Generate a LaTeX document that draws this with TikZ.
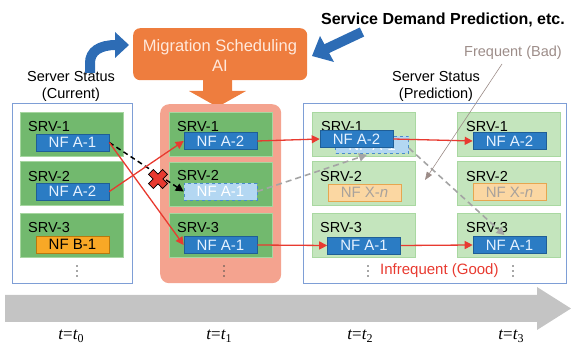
\documentclass[tikz,border=0pt]{standalone}
\usepackage{fontspec}
\setmainfont{Liberation Sans}
\newfontfamily\tnr{Liberation Serif}
\usetikzlibrary{arrows.meta,calc}
\definecolor{grnfill}{HTML}{72B96E}
\definecolor{grnborder}{HTML}{A6D6A0}
\definecolor{fgrnfill}{HTML}{C4E5BD}
\definecolor{fgrnborder}{HTML}{A9D8A1}
\definecolor{nfblue}{HTML}{2B7CC4}
\definecolor{nfdark}{HTML}{1F5E96}
\definecolor{nftext}{HTML}{E6F2FF}
\definecolor{nflight}{HTML}{B3D7F2}
\definecolor{nflightb}{HTML}{4A8CCB}
\definecolor{nforange}{HTML}{F8A826}
\definecolor{nforangeb}{HTML}{B8780E}
\definecolor{nfxfill}{HTML}{FBD7A2}
\definecolor{nfxb}{HTML}{E6A650}
\definecolor{nfxtext}{HTML}{A8A29C}
\definecolor{salmon}{HTML}{F4A38F}
\definecolor{aiorange}{HTML}{EE7D3E}
\definecolor{aitext}{HTML}{FFE9DC}
\definecolor{outblue}{HTML}{7E9ED6}
\definecolor{arrowgray}{HTML}{C4C4C4}
\definecolor{redarrow}{HTML}{E83A30}
\definecolor{bluearrow}{HTML}{2D6CB5}
\definecolor{freqcol}{HTML}{9C8C88}
\definecolor{dashgray}{HTML}{A4A4A4}
\tikzset{
  grn/.style={draw=grnborder, fill=grnfill, line width=0.6pt, minimum width=103pt, minimum height=44pt, anchor=north west, inner sep=0pt},
  fgrn/.style={draw=fgrnborder, fill=fgrnfill, line width=0.6pt, minimum width=103pt, minimum height=44pt, anchor=north west, inner sep=0pt},
  nf/.style={draw=nfdark, fill=nfblue, text=nftext, line width=0.6pt, minimum width=73pt, minimum height=17pt, inner sep=0pt, font=\fontsize{15}{15}\selectfont},
  nfghost/.style={draw=nflightb, dashed, fill=nflight, text=white, line width=0.6pt, minimum width=73pt, minimum height=17pt, inner sep=0pt, font=\fontsize{15}{15}\selectfont},
  nfor/.style={draw=nforangeb, fill=nforange, text=black, line width=0.6pt, minimum width=73pt, minimum height=17pt, inner sep=0pt, font=\fontsize{15}{15}\selectfont},
  nfx/.style={draw=nfxb, fill=nfxfill, text=nfxtext, line width=0.6pt, minimum width=73pt, minimum height=17pt, inner sep=0pt, font=\fontsize{15}{15}\selectfont},
  srv/.style={anchor=base west, inner sep=0pt, text=black},
  redarr/.style={draw=redarrow, line width=1.3pt, -{Triangle[length=8pt,width=8pt]}},
  grayarr/.style={draw=dashgray, line width=1.6pt, dash pattern=on 6pt off 4pt, -{Triangle[length=8pt,width=8pt]}},
  lbl/.style={inner sep=0pt, align=center, font=\fontsize{14.5}{17}\selectfont},
  tlbl/.style={inner sep=0pt, font=\fontsize{17}{17}\tnr},
  dot/.style={fill=black!70, draw=none}
}
\newcommand{\tlab}[1]{\itshape t\upshape =\itshape t\upshape\raisebox{-0.4ex}{\fontsize{12}{12}\selectfont #1}}
\begin{document}
\begin{tikzpicture}[x=1pt,y=-1pt, font=\fontsize{14.5}{16}\selectfont]
\useasboundingbox (0,0) rectangle (571,344);
% time arrow
\fill[arrowgray] (5,295) -- (537,295) -- (537,287) -- (571,308.5) -- (537,330) -- (537,322) -- (5,322) -- cycle;
% time labels
\node[tlbl] (t0) at (71,336) {\tlab{0}};
\node[tlbl] (t1) at (219,336) {\tlab{1}};
\node[tlbl] (t2) at (360,336) {\tlab{2}};
\node[tlbl] (t3) at (511,336) {\tlab{3}};

% top titles
\node[inner sep=0pt, font=\fontsize{16}{16}\selectfont\bfseries] (sdp) at (443,20) {Service Demand Prediction, etc.};
\node[fill=aiorange, rounded corners=7pt, minimum width=174pt, minimum height=52pt, anchor=north west, inner sep=0pt] (ai) at (133,28) {};
\node[lbl, text=aitext, font=\fontsize{16.5}{20}\selectfont] (aitxt) at (220,56) {Migration Scheduling\\AI};
\node[lbl] (curst) at (71,86) {Server Status\\(Current)};
\node[lbl] (predst) at (436,86) {Server Status\\(Prediction)};
\node[lbl, text=freqcol] (freq) at (513,53) {Frequent (Bad)};

% blue arrows
\draw[bluearrow, line width=10pt] (90,73) -- (90,63) .. controls (90,51) and (100,45) .. (116,45);
\fill[bluearrow] (115,32) -- (129,45) -- (115,58) -- cycle;
\draw[bluearrow, line width=10pt] (362,32) -- (326,49);
\fill[bluearrow] (320,36) -- (312,56) -- (334,62) -- cycle;

% orange down arrow
\fill[aiorange] (203,79) -- (232,79) -- (232,91) -- (246,91) -- (217.5,107) -- (189,91) -- (203,91) -- cycle;

% column containers
\node[draw=outblue, line width=0.8pt, minimum width=120pt, minimum height=180pt, anchor=north west, inner sep=0pt] (leftbox) at (12,103) {};
\node[fill=salmon, rounded corners=9pt, minimum width=121pt, minimum height=179pt, anchor=north west, inner sep=0pt] (midbox) at (160,104) {};
\node[draw=outblue, line width=0.8pt, minimum width=263pt, minimum height=180pt, anchor=north west, inner sep=0pt] (rightbox) at (303,103) {};

% left column t0
\node[grn] (g01) at (20,112) {};
\node[grn] (g02) at (20,161.5) {};
\node[grn] (g03) at (20,213) {};
\node[srv] (s01) at (28,132) {SRV-1};
\node[srv] (s02) at (28,182) {SRV-2};
\node[srv] (s03) at (28,233) {SRV-3};
\node[nf] (l1) at (72.5,142.5) {NF A-1};
\node[nf] (l2) at (72.5,191.5) {NF A-2};
\node[nfor] (l3) at (72.5,244.5) {NF B-1};

% middle column t1
\node[grn] (g11) at (168.5,112) {};
\node[grn] (g12) at (168.5,162) {};
\node[grn] (g13) at (168.5,213.5) {};
\node[srv] (s11) at (177,132) {SRV-1};
\node[srv] (s12) at (177,181) {SRV-2};
\node[srv] (s13) at (177,233) {SRV-3};
\node[nf] (m1) at (220.5,141) {NF A-2};
\node[nfghost] (m2) at (220.5,191.5) {NF A-1};
\node[nf] (m3) at (220.5,245) {NF A-1};

% t2 column
\node[fgrn] (g21) at (312,112) {};
\node[fgrn] (g22) at (312,161) {};
\node[fgrn] (g23) at (312,213) {};
\node[srv] (s21) at (321,132) {SRV-1};
\node[srv] (s22) at (320,182) {SRV-2};
\node[srv] (s23) at (320,233) {SRV-3};
\node[nfghost] (p1g) at (372,145) {NF A-1};
\node[nf] (p1) at (356.5,139) {NF A-2};
\node[nfx] (p2) at (364.5,192.5) {NF X-\textit{n}};
\node[nf] (p3) at (364,245.5) {NF A-1};

% t3 column
\node[fgrn] (g31) at (457,112) {};
\node[fgrn] (g32) at (457,161) {};
\node[fgrn] (g33) at (457,213) {};
\node[srv] (s31) at (466,132) {SRV-1};
\node[srv] (s32) at (466,182) {SRV-2};
\node[srv] (s33) at (466,233) {SRV-3};
\node[nf] (q1) at (509.5,141) {NF A-2};
\node[nfx] (q2) at (509.5,192) {NF X-\textit{n}};
\node[nf] (q3) at (509.5,245) {NF A-1};

% dots
\foreach \x in {77,224,368,513}{
  \foreach \y in {266,271,276}{
    \fill[dot] (\x,\y) circle (0.9pt);
  }
}
\node[inner sep=0pt, anchor=west, text=redarrow, font=\fontsize{15}{15}\selectfont] (infreq) at (380,271) {Infrequent (Good)};

% connectors t0 -> t1
\draw[black, line width=1.5pt, dash pattern=on 5pt off 3.5pt, -{Triangle[length=8pt,width=8pt]}] (l1.east) -- (m2.west);
\draw[redarr] (l1.east) -- (m3.west);
\draw[redarr] (l2.east) -- (m1.west);
% red X
\begin{scope}[shift={(158,179)}, rotate=45]
\filldraw[fill=redarrow, draw=black, line width=0.7pt] (3.5,10) -- (3.5,3.5) -- (10,3.5) -- (10,-3.5) -- (3.5,-3.5) -- (3.5,-10) -- (-3.5,-10) -- (-3.5,-3.5) -- (-10,-3.5) -- (-10,3.5) -- (-3.5,3.5) -- (-3.5,10) -- cycle;
\end{scope}

% t1 -> t2 -> t3
\draw[redarr] (m1.east) -- (p1.west);
\draw[redarr] (m3.east) -- (p3.west);
\draw[redarr] (p1.east) -- (q1.west);
\draw[redarr] (p3.east) -- (q3.west);
\draw[grayarr] (m2.east) -- ($(p1g.south)+(-5,1)$);
\draw[grayarr] ($(p1g.east)+(0,3)$) -- ($(q3.north)+(-5,-1)$);

% frequent pointer
\coordinate (fbtip) at (425,180);
\draw[freqcol, line width=0.6pt, -{Triangle[length=8pt,width=6pt]}] (502,64) -- (fbtip);
\end{tikzpicture}
\end{document}
